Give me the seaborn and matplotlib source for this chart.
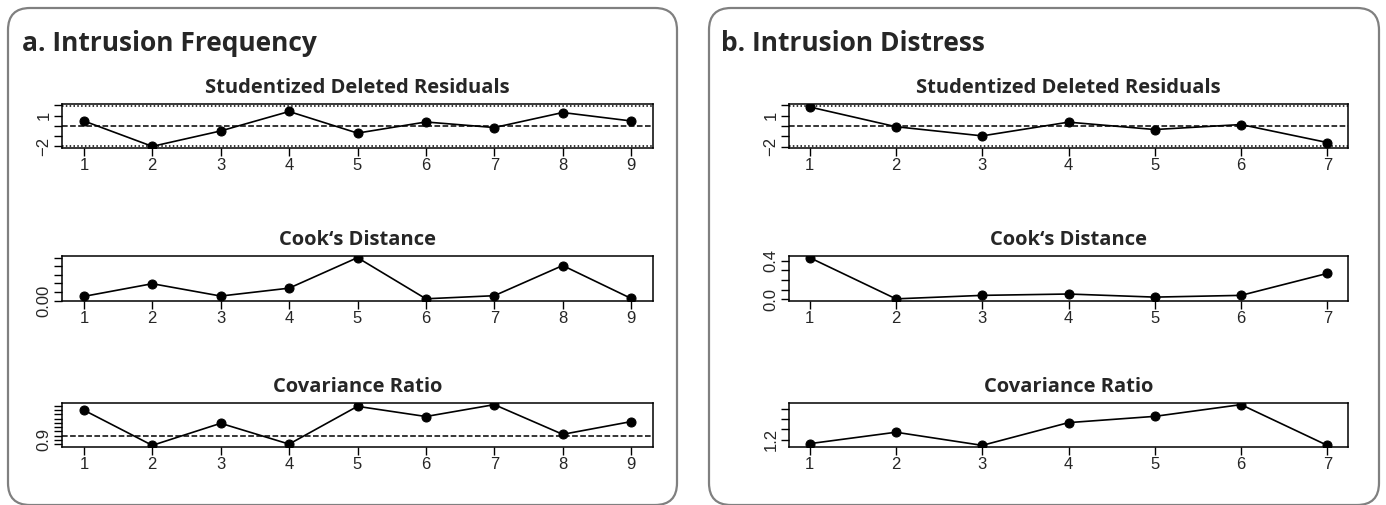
import matplotlib
matplotlib.use("Agg")
import matplotlib.pyplot as plt
import seaborn as sns
import pandas as pd
from matplotlib.patches import FancyBboxPatch

# influence diagnostics
freq_study = [1, 2, 3, 4, 5, 6, 7, 8, 9]
freq_rstudent = [0.47, -2.00, -0.50, 1.39, -0.71, 0.37, -0.17, 1.29, 0.47]
freq_cooks = [0.024, 0.098, 0.026, 0.072, 0.250, 0.010, 0.028, 0.204, 0.012]
freq_covratio = [1.60, 0.77, 1.29, 0.80, 1.69, 1.45, 1.73, 1.03, 1.33]

dist_study = [1, 2, 3, 4, 5, 6, 7]
dist_rstudent = [1.83, -0.07, -0.95, 0.37, -0.34, 0.14, -1.59]
dist_cooks = [0.432, 0.006, 0.042, 0.056, 0.024, 0.042, 0.269]
dist_covratio = [1.159, 1.272, 1.142, 1.367, 1.429, 1.545, 1.142]

panel_titles = ["a. Intrusion Frequency", "b. Intrusion Distress"]
sub_titles = ["Studentized Deleted Residuals", "Cook\u2018s Distance", "Covariance Ratio"]

# y ticks and which of them carry labels
rstud_ticks = [-2, -1, 0, 1, 2]
rstud_labels = {1: "1", -2: "\u22122"}
freq_cook_ticks = [0.0, 0.05, 0.10, 0.15, 0.20, 0.25]
freq_cook_labels = {0.0: "0.00"}
dist_cook_ticks = [0.0, 0.1, 0.2, 0.3, 0.4]
dist_cook_labels = {0.0: "0.0", 0.4: "0.4"}
freq_cov_ticks = [0.8, 0.9, 1.0, 1.1, 1.2, 1.3, 1.4, 1.5, 1.6, 1.7]
freq_cov_labels = {0.9: "0.9"}
dist_cov_ticks = [1.2, 1.3, 1.4, 1.5]
dist_cov_labels = {1.2: "1.2"}

sns.set_style("ticks")
plt.rcParams["font.family"] = ["Liberation Sans", "DejaVu Sans"]

W, H = 1386, 505
fig = plt.figure(figsize=(W / 100, H / 100), dpi=100)

# background layer in pixel units for the rounded frames and panel titles
bg = fig.add_axes([0, 0, 1, 1])
bg.set_xlim(0, W)
bg.set_ylim(H, 0)
bg.axis("off")
for x0, x1 in [(8, 677), (709, 1379)]:
    bg.add_patch(FancyBboxPatch((x0, 8), x1 - x0, 497, boxstyle="round,pad=0,rounding_size=22",
                                facecolor="white", edgecolor="#808080", linewidth=1.6))
bg.text(22, 51, panel_titles[0], fontsize=19, fontweight="bold", family="Open Sans", va="baseline")
bg.text(721, 51, panel_titles[1], fontsize=19, fontweight="bold", family="Open Sans", va="baseline")


def r_lim(vals, extra=()):
    lo = min(list(vals) + list(extra))
    hi = max(list(vals) + list(extra))
    pad = 0.04 * (hi - lo)
    return lo - pad, hi + pad


def draw(box, study, values, ticks, labels, refs, extra=()):
    x0, y0, x1, y1 = box
    ax = fig.add_axes([x0 / W, 1 - y1 / H, (x1 - x0) / W, (y1 - y0) / H])
    df = pd.DataFrame({"study": study, "value": values})
    for h, ls in refs:
        ax.axhline(h, color="black", linestyle=ls, linewidth=1.1, zorder=1)
    sns.lineplot(data=df, x="study", y="value", color="black", marker="o", markersize=6.5,
                 markeredgecolor="black", linewidth=1.2, ax=ax, zorder=3)
    span = study[-1] - study[0]
    ax.set_xlim(study[0] - 0.04 * span, study[-1] + 0.04 * span)
    ax.set_ylim(*r_lim(values, extra))
    ax.set_xticks(study)
    ax.set_xticklabels([str(s) for s in study], fontsize=12)
    ax.set_yticks(ticks)
    ax.set_yticklabels([labels.get(t, "") for t in ticks], fontsize=12, rotation=90, va="center")
    ax.tick_params(length=5.5, width=1, color="black", pad=2)
    for sp in ax.spines.values():
        sp.set_visible(True)
        sp.set_color("black")
        sp.set_linewidth(1.1)
    ax.set_xlabel("")
    ax.set_ylabel("")
    return ax


dotted = (0, (1, 1.5))
left = (62, 653)
right = (789, 1348)
rows = [(104, 148), (256, 300.5), (403, 447)]

axes = [
    draw((left[0], rows[0][0], left[1], rows[0][1]), freq_study, freq_rstudent, rstud_ticks, rstud_labels,
         [(0, "--"), (-1.96, dotted), (1.96, dotted)], extra=(-1.96, 1.96)),
    draw((left[0], rows[1][0], left[1], rows[1][1]), freq_study, freq_cooks, freq_cook_ticks, freq_cook_labels, []),
    draw((left[0], rows[2][0], left[1], rows[2][1]), freq_study, freq_covratio, freq_cov_ticks, freq_cov_labels,
         [(1, "--")]),
    draw((right[0], rows[0][0], right[1], rows[0][1]), dist_study, dist_rstudent, rstud_ticks, rstud_labels,
         [(0, "--"), (-1.96, dotted), (1.96, dotted)], extra=(-1.96, 1.96)),
    draw((right[0], rows[1][0], right[1], rows[1][1]), dist_study, dist_cooks, dist_cook_ticks, dist_cook_labels, []),
    draw((right[0], rows[2][0], right[1], rows[2][1]), dist_study, dist_covratio, dist_cov_ticks, dist_cov_labels,
         [(1, "--")]),
]
for i, ax in enumerate(axes):
    ax.set_title(sub_titles[i % 3], fontsize=14.5, fontweight="bold", family="Open Sans", pad=8)

fig.savefig("out.png", dpi=100)
